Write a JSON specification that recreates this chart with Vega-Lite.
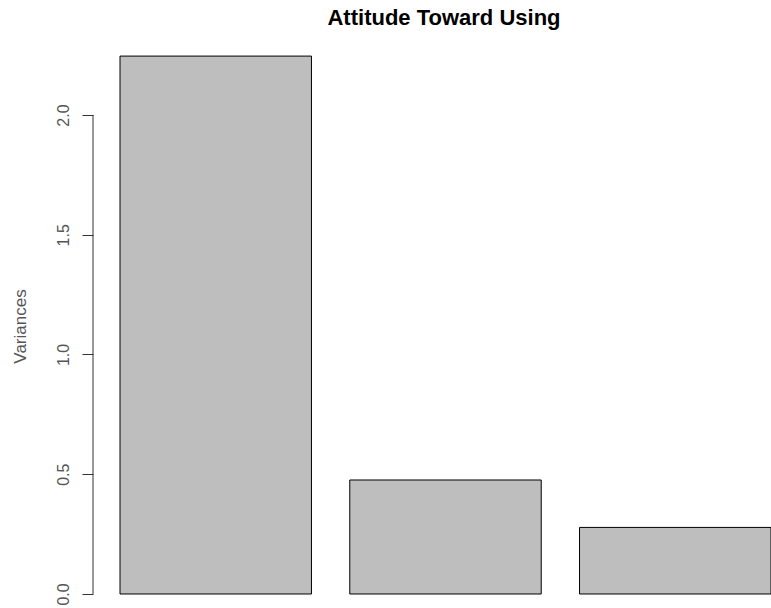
{
  "$schema": "https://vega.github.io/schema/vega-lite/v6.json",
  "autosize": "none",
  "width": 678,
  "height": 563,
  "padding": {"left": 93, "top": 45, "right": 0, "bottom": 0},
  "background": "white",
  "config": {
    "view": {"stroke": null},
    "font": "Liberation Sans"
  },
  "title": {
    "text": "Attitude Toward Using",
    "font": "Liberation Sans",
    "fontSize": 22,
    "fontWeight": "bold",
    "color": "#000000",
    "anchor": "middle",
    "dx": 12,
    "offset": 15
  },
  "data": {
    "values": [
      {"component": "Comp.1", "variance": 2.246},
      {"component": "Comp.2", "variance": 0.476},
      {"component": "Comp.3", "variance": 0.278}
    ]
  },
  "layer": [
    {
      "mark": {"type": "bar", "fill": "#bebebe", "stroke": "#000000", "strokeWidth": 1, "clip": true},
      "encoding": {
        "x": {
          "field": "component",
          "type": "nominal",
          "sort": null,
          "scale": {"range": [27, 678], "paddingInner": 0.1667, "paddingOuter": 0},
          "axis": null
        },
        "y": {
          "field": "variance",
          "type": "quantitative",
          "scale": {"domain": [-0.0585, 2.2923], "nice": false, "zero": false},
          "axis": {
            "title": "Variances",
            "titleFont": "Liberation Sans",
            "titleFontSize": 17,
            "titleFontWeight": "normal",
            "titleColor": "#555555",
            "titleAngle": -90,
            "titleX": -68,
            "titleY": 281,
            "titleAlign": "center",
            "titleBaseline": "alphabetic",
            "values": [0, 0.5, 1, 1.5, 2],
            "format": ".1f",
            "labelAngle": -90,
            "labelFont": "Liberation Sans",
            "labelFontSize": 16,
            "labelColor": "#555555",
            "labelPadding": 11,
            "tickSize": 11,
            "tickColor": "#333333",
            "domain": false,
            "grid": false
          }
        }
      }
    },
    {
      "data": {"values": [{"lo": 0, "hi": 2}]},
      "mark": {"type": "rule", "color": "#333333", "strokeWidth": 1},
      "encoding": {
        "x": {"value": 0},
        "y": {"field": "lo", "type": "quantitative"},
        "y2": {"field": "hi"}
      }
    }
  ]
}
